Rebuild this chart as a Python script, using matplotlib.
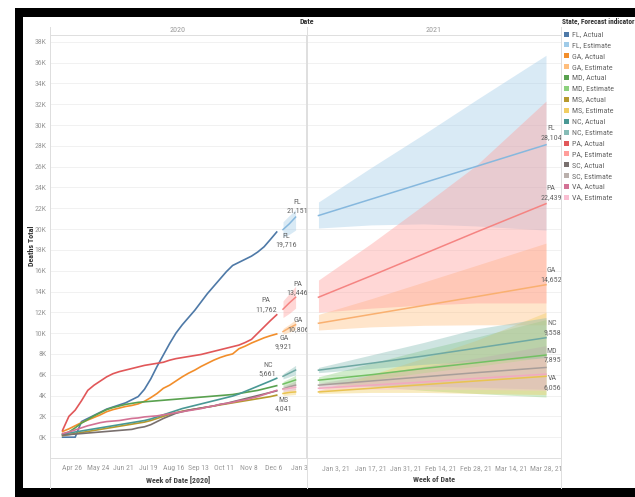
import pandas as pd
import matplotlib.pyplot as plt
from matplotlib import font_manager
from matplotlib.lines import Line2D
from matplotlib.patches import Rectangle


# ── Data (deaths) ─────────────────────────────────────────────────────────────

STATES = ["FL", "GA", "MD", "MS", "NC", "PA", "SC", "VA"]

# weekly actuals, Apr 15 .. Dec 9 2020 (35 weeks)
ACTUAL_START = "2020-04-15"
ACTUAL = {
    "FL": [0, 0, 0, 1500, 1800, 2100, 2400, 2700, 2900, 3100, 3300, 3600, 3900, 4600,
           5600, 6800, 7900, 9000, 10000, 10800, 11500, 12200, 13000, 13800, 14500,
           15200, 15900, 16500, 16800, 17100, 17400, 17800, 18300, 19000, 19716],
    "GA": [550, 800, 1100, 1400, 1650, 1900, 2150, 2450, 2650, 2800, 2950, 3050, 3200,
           3450, 3800, 4200, 4700, 5000, 5400, 5800, 6150, 6450, 6800, 7100, 7400, 7650,
           7850, 8000, 8500, 8750, 9050, 9300, 9550, 9750, 9921],
    "MD": [250, 500, 900, 1350, 1700, 2050, 2350, 2650, 2850, 3000, 3150, 3250, 3350,
           3400, 3450, 3500, 3550, 3600, 3650, 3700, 3750, 3800, 3850, 3900, 3950, 4000,
           4050, 4100, 4200, 4300, 4400, 4500, 4650, 4800, 4950],
    "MS": [150, 250, 350, 450, 550, 650, 750, 850, 950, 1050, 1150, 1250, 1350, 1450,
           1600, 1800, 2000, 2200, 2350, 2500, 2600, 2700, 2800, 2900, 3000, 3100, 3200,
           3300, 3400, 3500, 3600, 3700, 3800, 3900, 4041],
    "NC": [300, 400, 500, 600, 700, 800, 900, 1000, 1100, 1200, 1300, 1400, 1500, 1600,
           1750, 1950, 2150, 2350, 2550, 2750, 2900, 3050, 3200, 3350, 3500, 3650, 3800,
           3950, 4150, 4400, 4650, 4900, 5150, 5400, 5661],
    "PA": [670, 2000, 2600, 3500, 4500, 5000, 5400, 5800, 6100, 6300, 6450, 6600, 6750,
           6900, 7000, 7100, 7200, 7400, 7550, 7650, 7750, 7850, 7950, 8100, 8250, 8400,
           8550, 8700, 8850, 9100, 9400, 10000, 10600, 11200, 11762],
    "SC": [200, 250, 300, 350, 400, 450, 500, 550, 600, 650, 700, 750, 900, 1000, 1200,
           1500, 1800, 2050, 2300, 2450, 2600, 2700, 2800, 2900, 3000, 3150, 3250, 3400,
           3550, 3700, 3850, 4000, 4150, 4300, 4450],
    "VA": [350, 500, 700, 900, 1100, 1250, 1400, 1500, 1550, 1600, 1700, 1800, 1850,
           1950, 2000, 2050, 2150, 2250, 2350, 2450, 2550, 2650, 2750, 2900, 3000, 3150,
           3250, 3350, 3500, 3600, 3750, 3900, 4100, 4300, 4500],
}

# forecast weeks that fall in 2020
EST20_DATES = ["2020-12-16", "2020-12-23", "2020-12-30"]
EST20 = {
    "FL": [19950, 20500, 21151], "GA": [10150, 10500, 10806],
    "MD": [5100, 5300, 5500],    "MS": [4200, 4300, 4350],
    "NC": [5850, 6150, 6450],    "PA": [12300, 12900, 13446],
    "SC": [4650, 4850, 5000],    "VA": [4600, 4700, 4800],
}
EST20_LO = {
    "FL": [19200, 19500, 19900], "GA": [9900, 10100, 10350],
    "MD": [4850, 4950, 5050],    "MS": [4000, 4050, 4100],
    "NC": [5600, 5800, 6000],    "PA": [11500, 11900, 12400],
    "SC": [4400, 4500, 4600],    "VA": [4400, 4450, 4500],
}
EST20_HI = {
    "FL": [20700, 21300, 21900], "GA": [10450, 10850, 11300],
    "MD": [5350, 5650, 5950],    "MS": [4400, 4550, 4700],
    "NC": [6100, 6500, 6900],    "PA": [13100, 13800, 14500],
    "SC": [4900, 5150, 5400],    "VA": [4800, 5000, 5100],
}

# forecast weeks in 2021
EST21_DATES = ["2020-12-27", "2021-01-17", "2021-02-07", "2021-02-28", "2021-03-28"]
EST21 = {
    "FL": [21300, 22870, 24440, 26010, 28104],
    "GA": [10950, 11800, 12650, 13500, 14652],
    "MD": [5480, 6000, 6600, 7150, 7895],
    "MS": [4350, 4700, 5050, 5400, 5850],
    "NC": [6440, 7100, 7800, 8550, 9558],
    "PA": [13450, 15500, 17600, 19700, 22439],
    "SC": [5000, 5400, 5800, 6200, 6700],
    "VA": [4700, 5000, 5300, 5650, 6056],
}
EST21_LO = {
    "FL": [20100, 20400, 20500, 20300, 19900],
    "GA": [10300, 10600, 10750, 10800, 10800],
    "MD": [5200, 4900, 4500, 4200, 3860],
    "MS": [4200, 4300, 4300, 4200, 4100],
    "NC": [6200, 6600, 7000, 7300, 7600],
    "PA": [12000, 12400, 12700, 12900, 12900],
    "SC": [4800, 4900, 4900, 4800, 4600],
    "VA": [4500, 4600, 4600, 4600, 4500],
}
EST21_HI = {
    "FL": [22600, 25900, 29100, 32400, 36700],
    "GA": [11800, 13300, 14900, 16500, 18650],
    "MD": [5800, 7100, 8400, 9600, 11300],
    "MS": [4500, 6000, 7600, 9300, 12000],
    "NC": [6700, 7900, 9100, 10400, 11500],
    "PA": [15100, 18600, 22300, 26100, 32300],
    "SC": [5200, 6000, 6800, 7600, 8800],
    "VA": [4900, 5500, 6200, 6800, 7700],
}

Y_TICKS = list(range(0, 38001, 2000))
X20_TICKS = ["2020-04-26", "2020-05-24", "2020-06-21", "2020-07-19", "2020-08-16",
             "2020-09-13", "2020-10-11", "2020-11-08", "2020-12-06", "2021-01-03"]
X20_LABELS = ["Apr 26", "May 24", "Jun 21", "Jul 19", "Aug 16", "Sep 13", "Oct 11",
              "Nov 8", "Dec 6", "Jan 3"]
X21_TICKS = ["2021-01-03", "2021-01-17", "2021-01-31", "2021-02-14", "2021-02-28",
             "2021-03-14", "2021-03-28"]
X21_LABELS = ["Jan 3, 21", "Jan 17, 21", "Jan 31, 21", "Feb 14, 21", "Feb 28, 21",
              "Mar 14, 21", "Mar 28, 21"]

# which end points get a mark label: (series, state, dx px, dy px, va)
LABELS_2020 = [
    ("actual", "FL", 9, -1, "top"),   ("est", "FL", 2, 4, "bottom"),
    ("actual", "PA", -11, 3, "bottom"), ("est", "PA", 2, 2, "bottom"),
    ("actual", "GA", 7, -1, "top"),   ("est", "GA", 3, 0, "center"),
    ("actual", "NC", -9, 2, "bottom"), ("actual", "MS", 7, -2, "top"),
]
LABELS_2021 = [
    ("FL", 5, 5, "bottom"), ("PA", 5, 4, "bottom"), ("GA", 5, 3, "bottom"),
    ("NC", 6, 3, "bottom"), ("MD", 6, 0, "center"), ("VA", 6, -1, "top"),
]

# ── Style ─────────────────────────────────────────────────────────────────────

COLOR_ACTUAL = {"FL": "#4e79a7", "GA": "#f28e2b", "MD": "#59a14f", "MS": "#b6992d",
                "NC": "#499894", "PA": "#e15759", "SC": "#79706e", "VA": "#d37295"}
COLOR_EST = {"FL": "#a0cbe8", "GA": "#ffbe7d", "MD": "#8cd17d", "MS": "#f1ce63",
             "NC": "#86bcb6", "PA": "#ff9d9a", "SC": "#bab0ac", "VA": "#fabfd2"}
# forecast lines sit on their own band, so they read a shade darker
COLOR_EST_LINE = {"FL": "#86b8de", "GA": "#f9b070", "MD": "#72c063", "MS": "#e9c350",
                  "NC": "#6fa9a3", "PA": "#f58482", "SC": "#a89e9a", "VA": "#f2a9c0"}

names = {f.name for f in font_manager.fontManager.ttflist}
FONT = next((f for f in ("Liberation Sans Narrow", "Roboto Condensed", "Liberation Sans")
             if f in names), "DejaVu Sans")
plt.rcParams["font.family"] = [FONT, "DejaVu Sans"]

W, H = 635, 497
LINE = "#dedede"
TXT = "#666666"
FS = 5.8


def fx(px):
    return px / W


def fy(py):
    return 1 - py / H


fig = plt.figure(figsize=(W / 100, H / 100), dpi=100)
fig.patch.set_facecolor("white")

ax1 = fig.add_axes([fx(50), fy(458), (306 - 50) / W, (458 - 35) / H])
ax2 = fig.add_axes([fx(307), fy(458), (561 - 307) / W, (458 - 35) / H])

for ax in (ax1, ax2):
    ax.set_ylim(-2000, 38650)
    ax.set_yticks(Y_TICKS)
    ax.yaxis.grid(True, color="#efefef", linewidth=0.6)
    ax.set_axisbelow(True)
    for s in ax.spines.values():
        s.set_color(LINE)
        s.set_linewidth(0.7)
    ax.tick_params(length=0, labelsize=5.6, labelcolor="#9a9a9a", pad=2.5)

ax1.set_yticklabels([f"{v // 1000}K" for v in Y_TICKS])
ax2.set_yticklabels([])
ax2.spines["left"].set_visible(False)

# ── 2020 panel ────────────────────────────────────────────────────────────────
act_dates = pd.date_range(ACTUAL_START, periods=len(ACTUAL["FL"]), freq="7D")
e20 = pd.to_datetime(EST20_DATES)
for st in STATES:
    ax1.fill_between(e20, EST20_LO[st], EST20_HI[st], color=COLOR_EST[st],
                     alpha=0.4, linewidth=0)
for st in STATES:
    ax1.plot(act_dates, ACTUAL[st], color=COLOR_ACTUAL[st], linewidth=1.2)
    ax1.plot(e20, EST20[st], color=COLOR_EST_LINE[st], linewidth=1.1)

ax1.set_xlim(pd.Timestamp("2020-04-01"), pd.Timestamp("2021-01-10 14:00"))
ax1.set_xticks(pd.to_datetime(X20_TICKS))
ax1.set_xticklabels(X20_LABELS)
ax1.tick_params(axis="x", pad=5)

for kind, st, dx, dy, va in LABELS_2020:
    if kind == "actual":
        x, y = act_dates[-1], ACTUAL[st][-1]
    else:
        x, y = e20[-1], EST20[st][-1]
    ax1.annotate(f"{st}\n{y:,}", (x, y), xytext=(dx * 0.72, dy * 0.72),
                 textcoords="offset points", ha="center", va=va,
                 fontsize=FS, color=TXT, linespacing=1.5)

# ── 2021 panel ────────────────────────────────────────────────────────────────
e21 = pd.to_datetime(EST21_DATES)
for st in STATES:
    ax2.fill_between(e21, EST21_LO[st], EST21_HI[st], color=COLOR_EST[st],
                     alpha=0.4, linewidth=0)
for st in STATES:
    ax2.plot(e21, EST21[st], color=COLOR_EST_LINE[st], linewidth=1.1)

ax2.set_xlim(pd.Timestamp("2020-12-22 10:00"), pd.Timestamp("2021-04-03"))
ax2.set_xticks(pd.to_datetime(X21_TICKS))
ax2.set_xticklabels(X21_LABELS)
ax2.tick_params(axis="x", pad=5)

for st, dx, dy, va in LABELS_2021:
    x, y = e21[-1], EST21[st][-1]
    ax2.annotate(f"{st}\n{y:,}", (x, y), xytext=(dx * 0.72, dy * 0.72),
                 textcoords="offset points", ha="center", va=va,
                 fontsize=FS, color=TXT, linespacing=1.5)

# ── Headers, frame lines, titles ──────────────────────────────────────────────
for px in (50, 306.5, 561):
    fig.add_artist(Line2D([fx(px), fx(px)], [fy(27), fy(488)],
                          color=LINE, linewidth=0.7))

fig.text(fx(307), fy(22), "Date", ha="center", va="center", fontsize=FS,
         fontweight="bold", color="#333333")
fig.text(fx(178), fy(30), "2020", ha="center", va="center", fontsize=FS, color="#9a9a9a")
fig.text(fx(434), fy(30), "2021", ha="center", va="center", fontsize=FS, color="#9a9a9a")
fig.text(fx(31), fy(246), "Deaths Total", ha="center", va="center", rotation=90,
         fontsize=FS, fontweight="bold", color="#333333")
fig.text(fx(178), fy(480), "Week of Date [2020]", ha="center", va="center",
         fontsize=FS, fontweight="bold", color="#444444")
fig.text(fx(434), fy(480), "Week of Date", ha="center", va="center",
         fontsize=FS, fontweight="bold", color="#444444")

# legend
fig.text(fx(562), fy(22), "State, Forecast indicator", ha="left", va="center",
         fontsize=5.3, fontweight="bold", color="#333333")
y_item = 34
for st in STATES:
    for kind, col in (("Actual", COLOR_ACTUAL[st]), ("Estimate", COLOR_EST[st])):
        fig.add_artist(Rectangle((fx(564), fy(y_item + 2.5)), 5 / W, 5 / H,
                                 transform=fig.transFigure, color=col, linewidth=0))
        fig.text(fx(572), fy(y_item), f"{st}, {kind}", ha="left", va="center",
                 fontsize=FS, color=TXT)
        y_item += 10.9

# black screenshot frame
for x0, y0, w, h in ((15, 8, 620, 9), (15, 8, 8, 489), (15, 488, 620, 9)):
    fig.add_artist(Rectangle((fx(x0), fy(y0 + h)), w / W, h / H,
                             transform=fig.transFigure, color="black", linewidth=0))

fig.savefig("out.png", dpi=100, facecolor="white")
